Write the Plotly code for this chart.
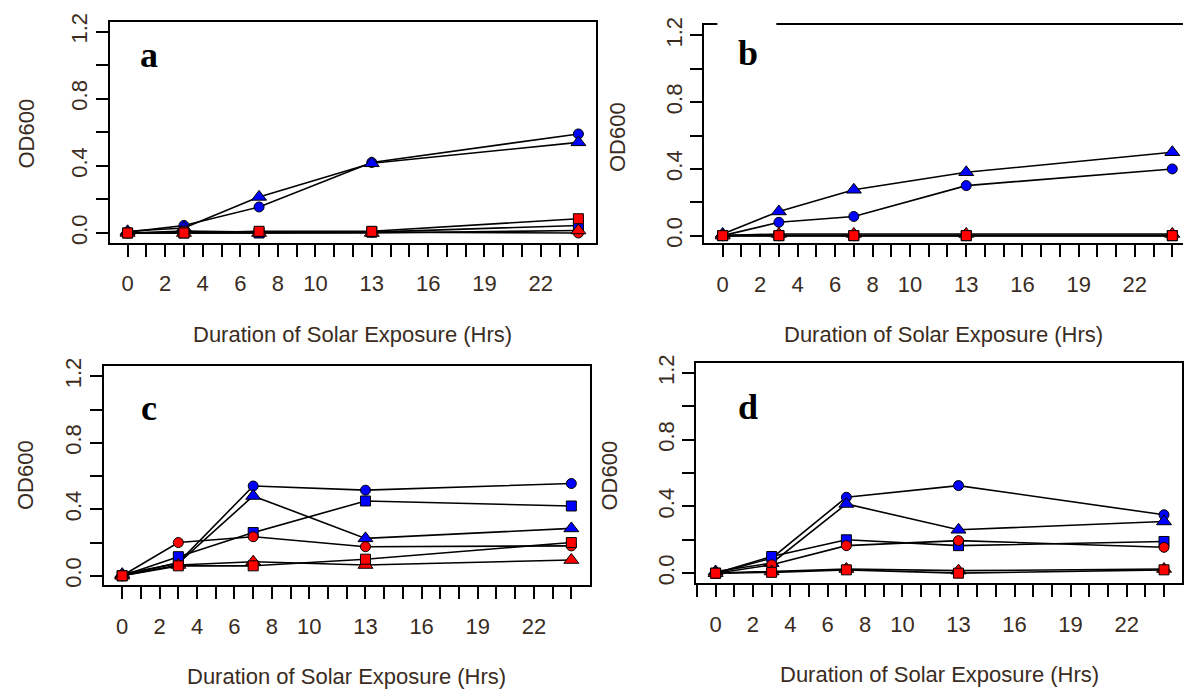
import plotly.graph_objects as go

# ---------------- data ----------------
hours = [0, 3, 7, 13, 24]
x_tick_vals = [0, 2, 4, 6, 8, 10, 13, 16, 19, 22]
x_tick_text = ["0", "2", "4", "6", "8", "10", "13", "16", "19", "22"]
y_tick_vals = [0.0, 0.4, 0.8, 1.2]
y_tick_text = ["0.0", "0.4", "0.8", "1.2"]
panel_letters = ["a", "b", "c", "d"]
x_title = "Duration of Solar Exposure (Hrs)"
y_title = "OD600"

# panel a
a_blue_circle = [0.005, 0.045, 0.155, 0.42, 0.59]
a_blue_triangle = [0.01, 0.03, 0.215, 0.415, 0.54]
a_blue_square = [0.0, 0.0, 0.0, 0.005, 0.045]
a_red_circle = [0.0, 0.012, 0.005, 0.005, 0.0]
a_red_triangle = [0.0, 0.0, 0.0, 0.0, 0.015]
a_red_square = [0.0, 0.0, 0.01, 0.01, 0.085]
# panel b
b_blue_circle = [0.0, 0.08, 0.115, 0.30, 0.40]
b_blue_triangle = [0.01, 0.145, 0.275, 0.38, 0.50]
b_blue_square = [0.0, 0.0, 0.0, 0.0, 0.0]
b_red_circle = [0.0, 0.0, 0.0, 0.0, 0.0]
b_red_triangle = [0.0, 0.01, 0.01, 0.01, 0.01]
b_red_square = [0.0, 0.0, 0.0, 0.0, 0.0]
# panel c
c_blue_circle = [0.0, 0.08, 0.54, 0.515, 0.555]
c_blue_triangle = [0.01, 0.075, 0.48, 0.225, 0.285]
c_blue_square = [0.0, 0.115, 0.26, 0.45, 0.42]
c_red_circle = [0.0, 0.20, 0.235, 0.175, 0.18]
c_red_triangle = [0.0, 0.065, 0.085, 0.065, 0.095]
c_red_square = [0.0, 0.06, 0.06, 0.10, 0.20]
# panel d
d_blue_circle = [0.0, 0.09, 0.455, 0.525, 0.35]
d_blue_triangle = [0.01, 0.06, 0.415, 0.26, 0.31]
d_blue_square = [0.0, 0.10, 0.20, 0.165, 0.19]
d_red_circle = [0.0, 0.05, 0.165, 0.195, 0.155]
d_red_triangle = [0.0, 0.01, 0.025, 0.015, 0.025]
d_red_square = [0.0, 0.005, 0.02, 0.0, 0.02]

panel_series = [
    [a_blue_circle, a_blue_triangle, a_blue_square, a_red_circle, a_red_triangle, a_red_square],
    [b_blue_circle, b_blue_triangle, b_blue_square, b_red_circle, b_red_triangle, b_red_square],
    [c_blue_circle, c_blue_triangle, c_blue_square, c_red_circle, c_red_triangle, c_red_square],
    [d_blue_circle, d_blue_triangle, d_blue_square, d_red_circle, d_red_triangle, d_red_square],
]

# ---------------- styles / geometry ----------------
W, H = 1184, 690
BLUE, RED = "#0000FF", "#FF0000"
series_style = [
    (BLUE, "circle", 10), (BLUE, "triangle-up", 13), (BLUE, "square", 10),
    (RED, "circle", 10), (RED, "triangle-up", 13), (RED, "square", 10),
]
TEXT = "#3a2c1e"
FONT = "Liberation Sans, Arial, sans-serif"
FS = 22

# box (px) left, right, top, bottom ; x0 px, px per hour ; y0 px, px per unit
geom = [
    dict(l=110, r=597, t=13, b=238.5, x0=127.7, xs=18.8, y0=228.3, ys=171.1, right=True),
    dict(l=705, r=1184, t=16, b=239, x0=723.3, xs=18.75, y0=231, ys=170, right=False),
    dict(l=104, r=590.5, t=364, b=587.3, x0=122.3, xs=18.73, y0=577.7, ys=169.5, right=True),
    dict(l=697, r=1183, t=361, b=585.5, x0=716.2, xs=18.7, y0=575, ys=170, right=True),
]
letter_pos = [(149, 47), (749, 45), (149, 407), (749, 406)]
ylab_pos = [(27, 127), (618, 130), (25, 475), (610, 475)]

fig = go.Figure()
annotations = []
for i, g in enumerate(geom):
    n = "" if i == 0 else str(i + 1)
    xa, ya = "x" + n, "y" + n
    for vals, (col, sym, sz) in zip(panel_series[i], series_style):
        fig.add_trace(go.Scatter(
            x=hours, y=vals, xaxis=xa, yaxis=ya, mode="lines+markers",
            line=dict(color="black", width=1.6),
            marker=dict(symbol=sym, size=sz, color=col, line=dict(color="black", width=1)),
            showlegend=False, hoverinfo="skip"))
    xr = [(g["l"] - g["x0"]) / g["xs"], (g["r"] - g["x0"]) / g["xs"]]
    yr = [(g["y0"] - g["b"]) / g["ys"], (g["y0"] - g["t"]) / g["ys"]]
    common = dict(showgrid=False, zeroline=False, showline=True, linecolor="black", linewidth=2,
                  ticks="outside", ticklen=12, tickwidth=2, tickcolor="black",
                  tickfont=dict(family=FONT, size=FS, color=TEXT), fixedrange=True)
    fig.layout["xaxis" + n] = dict(
        common, domain=[g["l"] / W, g["r"] / W], range=xr, anchor=ya, mirror=True,
        tickmode="array", tickvals=x_tick_vals, ticktext=x_tick_text, ticklabelstandoff=8,
        minor=dict(tickmode="linear", tick0=0, dtick=1, ticks="outside", ticklen=12,
                   tickwidth=2, tickcolor="black"))
    fig.layout["yaxis" + n] = dict(
        common, domain=[1 - g["b"] / H, 1 - g["t"] / H], range=yr, anchor=xa,
        mirror=g["right"], tickmode="array", tickvals=y_tick_vals, ticktext=y_tick_text,
        tickangle=-90, ticklabelstandoff=0,
        minor=dict(tickmode="linear", tick0=0, dtick=0.2, ticks="outside", ticklen=12,
                   tickwidth=2, tickcolor="black"))
    lx, ly = letter_pos[i]
    annotations.append(dict(x=lx / W, y=1 - ly / H, xref="paper", yref="paper",
                            text="<b>" + panel_letters[i] + "</b>", showarrow=False,
                            font=dict(family="Liberation Serif, Times New Roman, serif", size=36, color="black"),
                            xanchor="center", yanchor="middle"))
    cx = (g["l"] + min(g["r"], g["l"] + 486)) / 2
    annotations.append(dict(x=cx / W, y=1 - (g["b"] + 93) / H, xref="paper", yref="paper",
                            text=x_title, showarrow=False,
                            font=dict(family=FONT, size=FS, color=TEXT),
                            xanchor="center", yanchor="middle"))
    px_, py_ = ylab_pos[i]
    annotations.append(dict(x=px_ / W, y=1 - py_ / H, xref="paper", yref="paper",
                            text=y_title, showarrow=False, textangle=-90,
                            font=dict(family=FONT, size=FS, color=TEXT),
                            xanchor="center", yanchor="middle"))

fig.update_layout(
    width=W, height=H, margin=dict(l=0, r=0, t=0, b=0),
    paper_bgcolor="white", plot_bgcolor="white",
    annotations=annotations,
    shapes=[dict(type="rect", xref="paper", yref="paper", x0=718 / W, x1=777 / W,
                 y0=1 - 20 / H, y1=1 - 11 / H, fillcolor="white", line=dict(width=0), layer="above")],
)
fig.write_html("out.html")
